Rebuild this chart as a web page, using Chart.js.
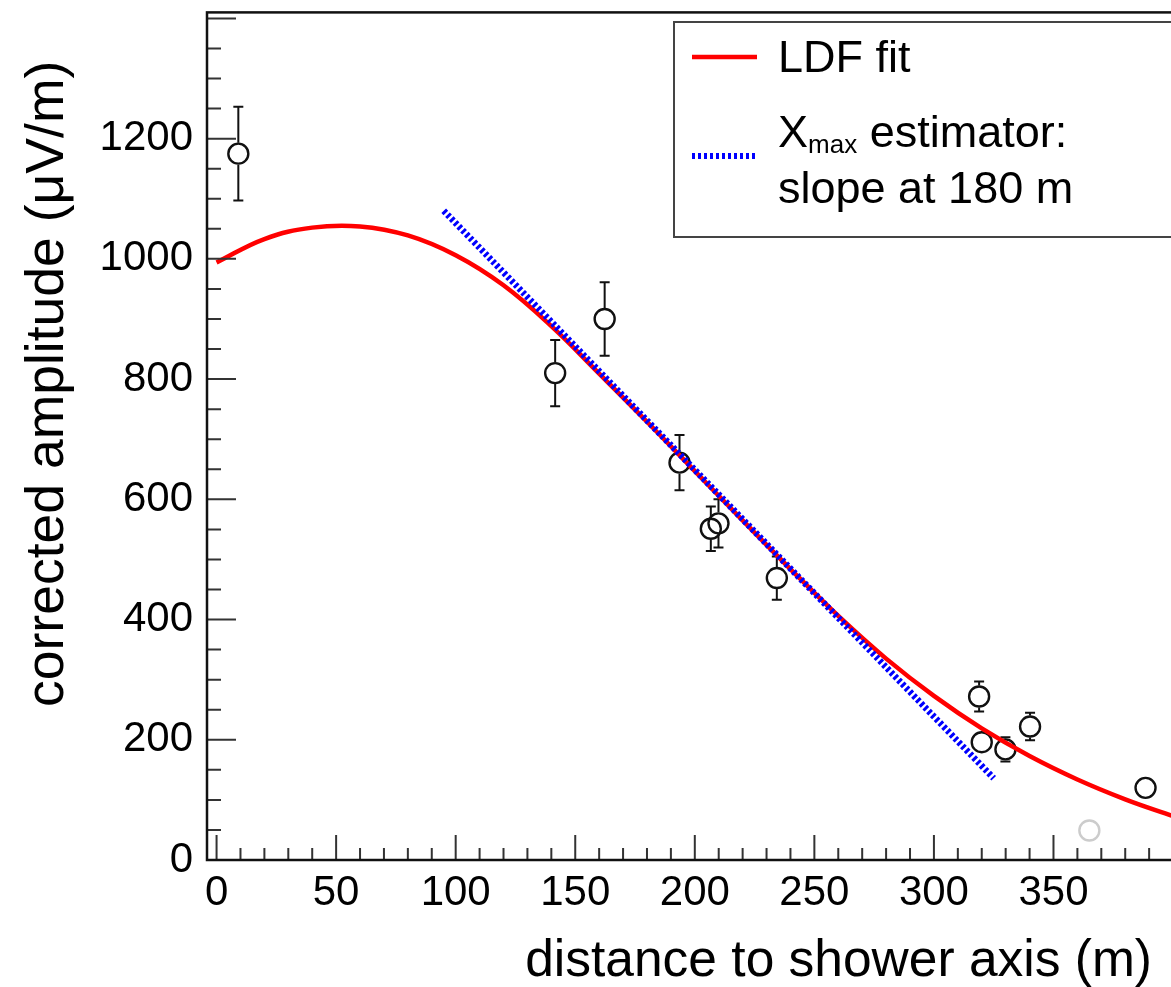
<!DOCTYPE html>
<html>
<head>
<meta charset="utf-8">
<script src="https://cdn.jsdelivr.net/npm/chart.js@4.4.1/dist/chart.umd.min.js"></script>
<style>
html, body { margin: 0; padding: 0; background: #fff; overflow: hidden; }
#wrap { position: relative; width: 1200px; height: 987px; }
</style>
</head>
<body>
<div id="wrap"><canvas id="ldf"></canvas></div>
<script>
const FONT = "'Liberation Sans', Arial, Helvetica, sans-serif";

// antennas used in the fit
const distances = [9.1, 141.6, 162.3, 193.6, 206.7, 209.9, 234.3, 318.9, 320.0, 329.9, 340.2, 388.5];
const amplitudes = [1175, 810, 900, 661, 551, 560, 469, 272, 196, 184, 222, 120];
const amplitudeErrors = [78, 55, 61, 46, 37, 40, 36, 25, 18, 20, 23, 8];

// antenna left out (grey)
const excludedDistances = [365];
const excludedAmplitudes = [49];

// LDF fit, every 20 m
const fitDistances = [0, 20, 40, 60, 80, 100, 120, 140, 160, 180, 200, 220, 240, 260, 280, 300, 320, 340, 360, 380, 400];
const fitAmplitudes = [994, 1033, 1052, 1054, 1039, 1006, 956, 888, 809, 729, 647, 565, 484, 406, 335, 273, 219, 173, 134, 101, 73];

// Xmax estimator: slope at 180 m
const slopeDistances = [95, 325];
const slopeAmplitudes = [1080, 136];

const xTickLabels = [0, 50, 100, 150, 200, 250, 300, 350];
const yTickLabels = [0, 200, 400, 600, 800, 1000, 1200];

const xTitle = 'distance to shower axis (m)';
const yTitle = 'corrected amplitude (\u03bcV/m)';

function toPoints(xs, ys) {
    return xs.map((x, i) => ({ x: x, y: ys[i] }));
}

// ROOT-like frame, inward ticks, error bars, titles and legend
const rootStyle = {
    id: 'rootStyle',
    beforeDatasetsDraw(chart) {
        const ctx = chart.ctx;
        const xs = chart.scales.x, ys = chart.scales.y;
        const r = 11;
        ctx.save();
        ctx.strokeStyle = '#111';
        ctx.lineWidth = 2;
        distances.forEach((d, i) => {
            const px = xs.getPixelForValue(d);
            const py = ys.getPixelForValue(amplitudes[i]);
            const top = ys.getPixelForValue(amplitudes[i] + amplitudeErrors[i]);
            const bot = ys.getPixelForValue(amplitudes[i] - amplitudeErrors[i]);
            ctx.beginPath();
            if (top < py - r) {
                ctx.moveTo(px, py - r); ctx.lineTo(px, top);
                ctx.moveTo(px - 5, top); ctx.lineTo(px + 5, top);
            }
            if (bot > py + r) {
                ctx.moveTo(px, py + r); ctx.lineTo(px, bot);
                ctx.moveTo(px - 5, bot); ctx.lineTo(px + 5, bot);
            }
            ctx.stroke();
        });
        ctx.restore();
    },
    afterDatasetsDraw(chart) {
        const ctx = chart.ctx;
        const a = chart.chartArea;
        const xs = chart.scales.x, ys = chart.scales.y;
        ctx.save();

        // ticks
        ctx.strokeStyle = '#333';
        ctx.lineWidth = 2;
        ctx.beginPath();
        for (let v = 0; v <= 400; v += 10) {
            const px = xs.getPixelForValue(v);
            if (px > a.right) break;
            const len = v % 50 === 0 ? 25 : 12;
            ctx.moveTo(px, a.bottom); ctx.lineTo(px, a.bottom - len);
        }
        for (let v = 0; v <= 1400; v += 50) {
            const py = ys.getPixelForValue(v);
            const len = v % 200 === 0 ? 29 : 14;
            ctx.moveTo(a.left, py); ctx.lineTo(a.left + len, py);
        }
        ctx.stroke();

        // frame
        ctx.strokeStyle = '#111';
        ctx.lineWidth = 2.5;
        ctx.strokeRect(a.left, a.top, a.right - a.left, a.bottom - a.top);

        // axis titles
        ctx.fillStyle = '#000';
        ctx.textBaseline = 'alphabetic';
        ctx.font = '51.5px ' + FONT;
        ctx.textAlign = 'right';
        ctx.fillText(xTitle, 1152, 976);
        ctx.save();
        ctx.font = '53.5px ' + FONT;
        ctx.translate(63, 707);
        ctx.rotate(-Math.PI / 2);
        ctx.textAlign = 'left';
        ctx.fillText(yTitle, 0, 0);
        ctx.restore();

        // legend
        ctx.fillStyle = '#fff';
        ctx.fillRect(674, 22, 510, 215);
        ctx.strokeStyle = '#444';
        ctx.lineWidth = 2;
        ctx.strokeRect(674, 22, 510, 215);

        ctx.strokeStyle = '#ff0000';
        ctx.lineWidth = 4.5;
        ctx.beginPath(); ctx.moveTo(692, 57); ctx.lineTo(757, 57); ctx.stroke();

        ctx.strokeStyle = '#0000ff';
        ctx.lineWidth = 6;
        ctx.setLineDash([3, 3]);
        ctx.beginPath(); ctx.moveTo(692, 156); ctx.lineTo(755, 156); ctx.stroke();
        ctx.setLineDash([]);

        ctx.fillStyle = '#000';
        ctx.textAlign = 'left';
        ctx.font = '45px ' + FONT;
        ctx.fillText('LDF fit', 778, 72);
        ctx.fillText('X', 778, 147);
        let w = ctx.measureText('X').width;
        ctx.font = '26px ' + FONT;
        ctx.fillText('max', 778 + w, 153);
        w += ctx.measureText('max').width;
        ctx.font = '45px ' + FONT;
        ctx.fillText(' estimator:', 778 + w, 147);
        ctx.fillText('slope at 180 m', 778, 203);

        ctx.restore();
    }
};

new Chart(document.getElementById('ldf'), {
    type: 'scatter',
    data: {
        datasets: [
            {
                label: 'Xmax estimator: slope at 180 m',
                type: 'line',
                data: toPoints(slopeDistances, slopeAmplitudes),
                borderColor: '#0000ff',
                borderWidth: 6.5,
                borderDash: [3, 2.4],
                pointRadius: 0,
                fill: false,
                order: 1
            },
            {
                label: 'LDF fit',
                type: 'line',
                data: toPoints(fitDistances, fitAmplitudes),
                borderColor: '#ff0000',
                borderWidth: 4.5,
                pointRadius: 0,
                tension: 0.4,
                fill: false,
                order: 2
            },
            {
                label: 'antennas',
                data: toPoints(distances, amplitudes),
                pointRadius: 10,
                pointBorderWidth: 2.4,
                borderColor: '#111',
                backgroundColor: 'rgba(0,0,0,0)',
                order: 3
            },
            {
                label: 'excluded',
                data: toPoints(excludedDistances, excludedAmplitudes),
                pointRadius: 10,
                pointBorderWidth: 2.4,
                borderColor: '#cccccc',
                backgroundColor: 'rgba(0,0,0,0)',
                order: 4
            }
        ]
    },
    options: {
        responsive: true,
        maintainAspectRatio: false,
        animation: false,
        events: [],
        layout: { padding: { top: 11, right: 15, left: 0, bottom: 0 } },
        plugins: {
            legend: { display: false },
            tooltip: { enabled: false }
        },
        scales: {
            x: {
                type: 'linear',
                min: -4,
                max: 405,
                grid: { display: false, drawTicks: false },
                border: { display: false },
                ticks: {
                    color: '#000',
                    font: { family: FONT, size: 42 },
                    padding: 8,
                    autoSkip: false,
                    maxRotation: 0,
                    callback: v => String(v)
                },
                afterBuildTicks: function (s) {
                    s.ticks = xTickLabels.map(v => ({ value: v }));
                },
                afterFit: function (s) {
                    s.height = 127;
                    s.paddingLeft = 0;
                    s.paddingRight = 0;
                }
            },
            y: {
                type: 'linear',
                min: 0,
                max: 1410,
                grid: { display: false, drawTicks: false },
                border: { display: false },
                ticks: {
                    color: '#000',
                    font: { family: FONT, size: 42 },
                    padding: 14,
                    autoSkip: false,
                    callback: v => String(v)
                },
                afterBuildTicks: function (s) {
                    s.ticks = yTickLabels.map(v => ({ value: v }));
                },
                afterFit: function (s) {
                    s.width = 207;
                    s.paddingTop = 0;
                    s.paddingBottom = 0;
                }
            }
        }
    },
    plugins: [rootStyle]
});
</script>
</body>
</html>
